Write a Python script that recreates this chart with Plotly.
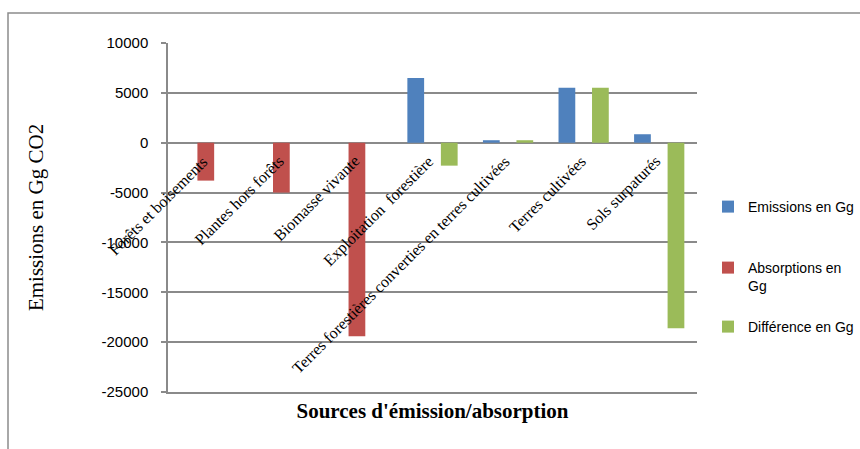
import plotly.graph_objects as go

# Sources of emission / absorption and their values (Gg CO2)
categories = [
    "Forêts et boisements",
    "Plantes hors forêts",
    "Biomasse vivante",
    "Exploitation  forestière",
    "Terres forestières converties en terres cultivées",
    "Terres cultivées",
    "Sols surpaturés",
]
emissions = [None, None, None, 6500, 250, 5500, 850]
absorptions = [-3800, -5000, -19400, None, None, None, None]
difference = [None, None, None, -2300, 250, 5500, -18600]

series_names = ["Emissions en Gg", "Absorptions en<br>Gg", "Différence en Gg"]
series_colors = ["#4F81BD", "#C0504D", "#9BBB59"]
y_ticks = [10000, 5000, 0, -5000, -10000, -15000, -20000, -25000]

W, H = 860, 449
L, R, T, B = 168, 163, 43, 57
GRID = "#8a8a8a"


def px_x(px):
    return (px - L) / (W - L - R)


def px_y(py):
    return (H - B - py) / (H - T - B)


fig = go.Figure()
legend_ids = ["legend", "legend2", "legend3"]
for vals, name, color, lg in zip([emissions, absorptions, difference],
                                 series_names, series_colors, legend_ids):
    fig.add_trace(go.Bar(
        x=categories, y=vals, name=name,
        marker=dict(color=color, line=dict(width=0)),
        legend=lg,
    ))

# Category labels sit along the zero line, rotated like the axis labels
for cat in categories:
    fig.add_annotation(
        x=cat, y=0, xref="x", yref="y",
        text=cat, showarrow=False, textangle=-45,
        xanchor="right", yanchor="top", xshift=8, yshift=-7,
        font=dict(family="Liberation Serif", size=16, color="#000"),
    )

# Outer chart frame
fig.add_shape(type="rect", xref="paper", yref="paper",
              x0=px_x(8), x1=px_x(900), y0=px_y(13), y1=px_y(480),
              line=dict(color="#8c8c8c", width=1.5), layer="below")

legend_style = dict(
    font=dict(family="Liberation Sans", size=14, color="#000"),
    bgcolor="rgba(0,0,0,0)", borderwidth=0, valign="top",
    xanchor="left", yanchor="middle",
)
fig.update_layout(
    width=W, height=H,
    margin=dict(l=L, r=R, t=T, b=B, autoexpand=False),
    paper_bgcolor="white", plot_bgcolor="white",
    barmode="group", bargap=0.335, bargroupgap=0,
    showlegend=True,
    legend=dict(x=px_x(708), y=px_y(207), **legend_style),
    legend2=dict(x=px_x(708), y=px_y(277), **legend_style),
    legend3=dict(x=px_x(708), y=px_y(327), **legend_style),
    xaxis=dict(
        range=[-0.5, len(categories) - 0.5], autorange=False,
        showticklabels=False, ticks="", showgrid=False,
        showline=True, linecolor=GRID, linewidth=1.5,
        zeroline=False,
        title=dict(text="<b>Sources d'émission/absorption</b>", standoff=11,
                   font=dict(family="Liberation Serif", size=21, color="#000")),
    ),
    yaxis=dict(
        range=[-25000, 10000], autorange=False, tickvals=y_ticks,
        ticktext=[str(v) for v in y_ticks],
        showgrid=True, gridcolor=GRID, gridwidth=1.5,
        zeroline=True, zerolinecolor=GRID, zerolinewidth=1.5,
        showline=True, linecolor=GRID, linewidth=1.5,
        ticks="outside", ticklen=5, tickcolor=GRID, tickwidth=1.5,
        ticklabelstandoff=10,
        tickfont=dict(family="Liberation Sans", size=15, color="#000"),
        title=dict(text="Emissions en Gg CO2", standoff=52,
                   font=dict(family="Liberation Serif", size=21, color="#000")),
        automargin=False,
    ),
)

fig.write_html("out.html")
